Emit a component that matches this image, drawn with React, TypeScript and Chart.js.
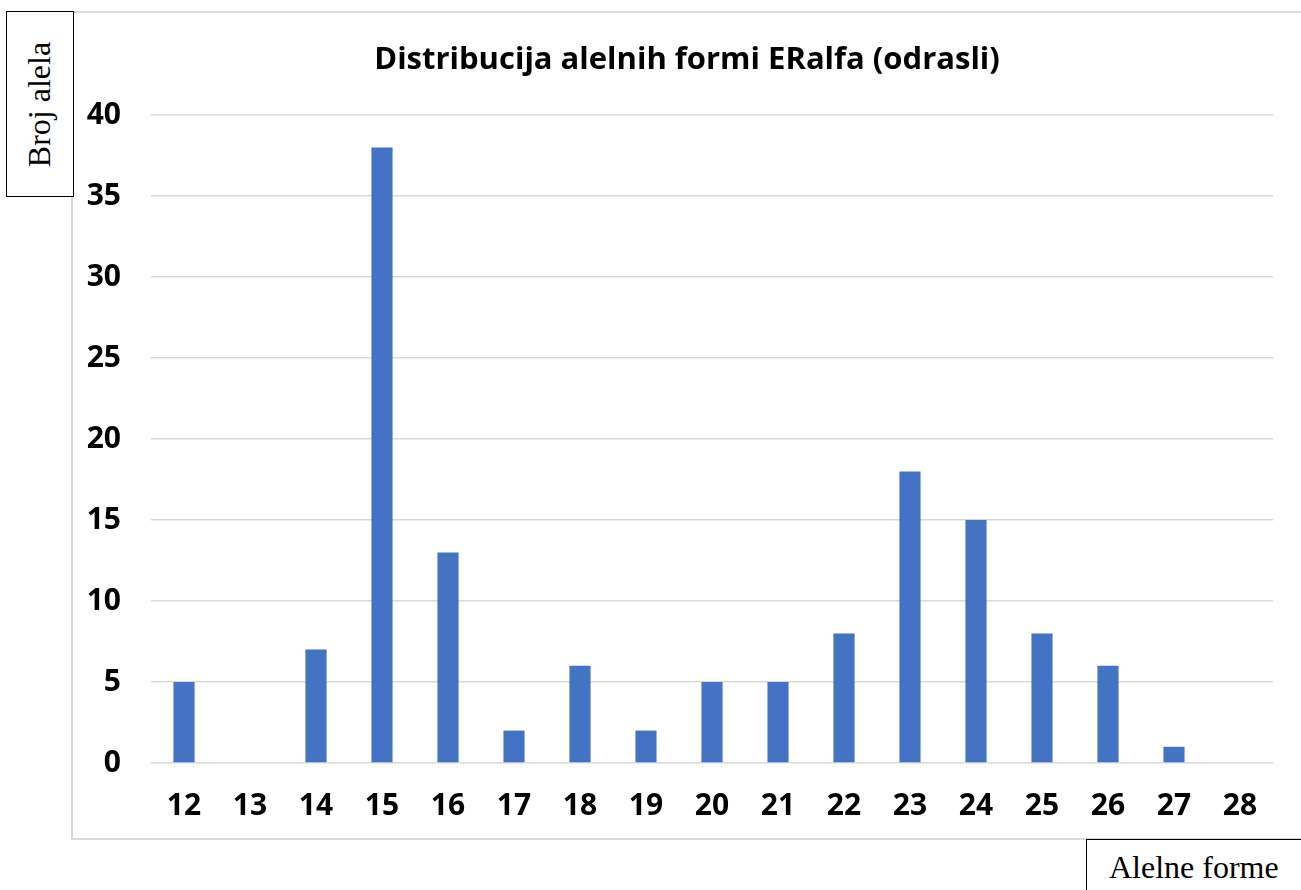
import React, { useEffect, useRef } from "react";
import { Chart, registerables } from "chart.js";

Chart.register(...registerables);

const categories = ["12","13","14","15","16","17","18","19","20","21","22","23","24","25","26","27","28"];
const counts = [5, 0, 7, 38, 13, 2, 6, 2, 5, 5, 8, 18, 15, 8, 6, 1, 0];
const yTicks = [0, 5, 10, 15, 20, 25, 30, 35, 40];
const titleText = "Distribucija alelnih formi ERalfa (odrasli)";
const yAxisTitle = "Broj alela";
const xAxisTitle = "Alelne forme";

const FONT = "'Open Sans', sans-serif";

const titlePlugin = {
  id: "customTitle",
  afterDraw(chart: any) {
    const ctx = chart.ctx;
    ctx.save();
    ctx.font = `bold 31px ${FONT}`;
    ctx.fillStyle = "#000";
    ctx.textAlign = "center";
    ctx.textBaseline = "middle";
    ctx.fillText(titleText, 687, 60);
    ctx.restore();
  },
};

export default function App() {
  const ref = useRef<HTMLCanvasElement | null>(null);
  useEffect(() => {
    if (!ref.current) return;
    const chart = new Chart(ref.current, {
      type: "bar",
      data: {
        labels: categories,
        datasets: [
          {
            data: counts,
            backgroundColor: "#4472c4",
            barPercentage: 0.64,
            categoryPercentage: 0.5,
          },
        ],
      },
      options: {
        animation: false,
        responsive: false,
        maintainAspectRatio: false,
        layout: { padding: { top: 115, left: 0, right: 28, bottom: 0 } },
        plugins: { legend: { display: false }, tooltip: { enabled: false }, title: { display: false } },
        scales: {
          x: {
            grid: { display: false, drawTicks: false },
            border: { display: false },
            ticks: { color: "#000", font: { family: FONT, size: 30, weight: "bold" }, padding: 25 },
            afterFit(scale: any) { scale.height = 127; },
          },
          y: {
            min: 0,
            max: 40,
            afterBuildTicks(scale: any) { scale.ticks = yTicks.map((v) => ({ value: v })); },
            grid: { color: "#d9d9d9", lineWidth: 1.5, drawTicks: false },
            border: { display: false },
            ticks: { color: "#000", font: { family: FONT, size: 30, weight: "bold" }, padding: 30 },
            afterFit(scale: any) { scale.width = 151; },
          },
        },
      },
      plugins: [titlePlugin],
    });
    return () => chart.destroy();
  }, []);

  return (
    <div style={{ position: "absolute", left: 0, top: 0, width: 1301, height: 890, overflow: "hidden", background: "#fff" }}>
      <div style={{ position: "absolute", left: 71, top: 11, width: 1240, height: 829, border: "2px solid #d9d9d9", boxSizing: "border-box" }} />
      <canvas ref={ref} width={1301} height={890} style={{ position: "absolute", left: 0, top: 0 }} />
      <div style={{ position: "absolute", left: 6, top: 11, width: 68, height: 186, border: "1.5px solid #000", boxSizing: "border-box", background: "#fff", display: "flex", alignItems: "center", justifyContent: "center" }}>
        <div style={{ transform: "rotate(-90deg)", whiteSpace: "nowrap", fontFamily: "'Liberation Serif', serif", fontSize: 32, color: "#000" }}>{yAxisTitle}</div>
      </div>
      <div style={{ position: "absolute", left: 1086, top: 839, width: 240, height: 80, border: "1.5px solid #000", boxSizing: "border-box", background: "#fff" }}>
        <div style={{ position: "absolute", left: 22, top: 9, whiteSpace: "nowrap", fontFamily: "'Liberation Serif', serif", fontSize: 32, color: "#000" }}>{xAxisTitle}</div>
      </div>
    </div>
  );
}
